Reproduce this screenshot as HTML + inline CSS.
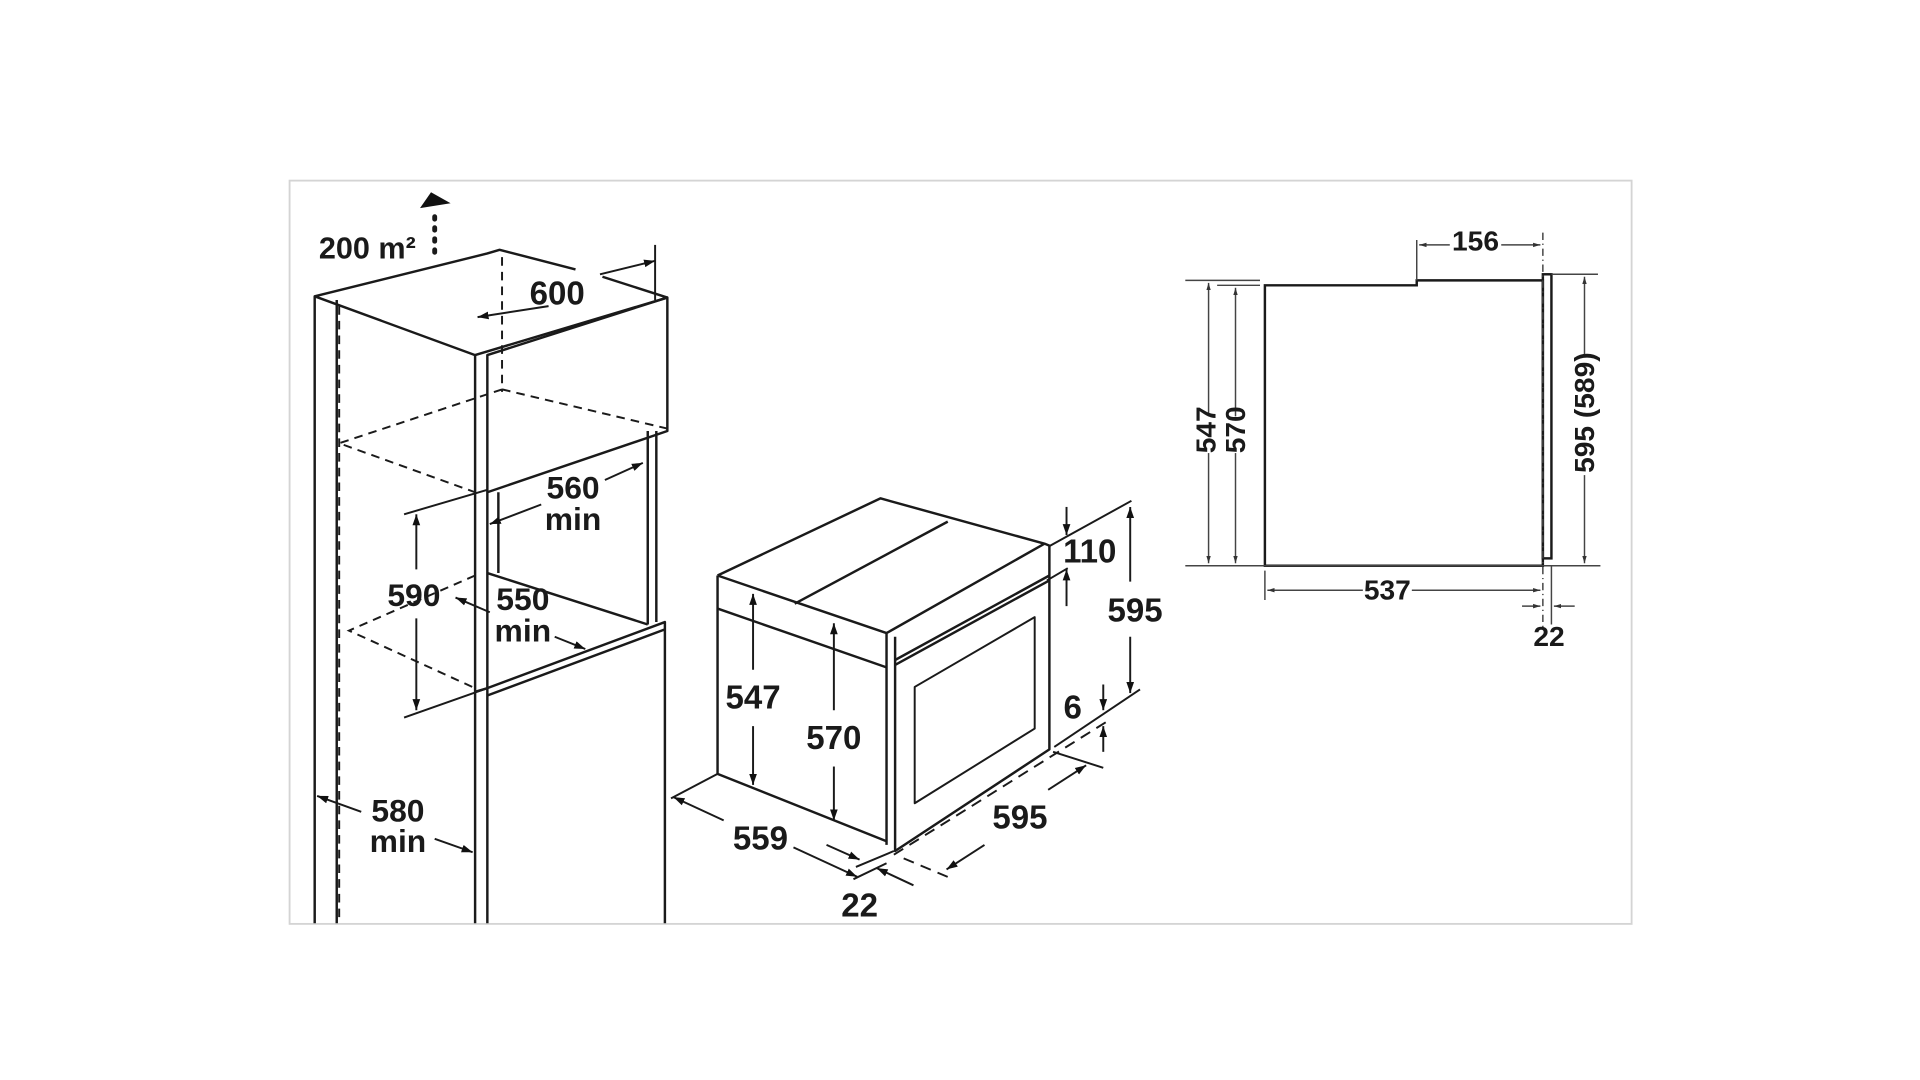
<!DOCTYPE html>
<html><head><meta charset="utf-8"><style>
html,body{margin:0;padding:0;background:#fff;}
svg{display:block}
text{font-family:"Liberation Sans Narrow","Liberation Sans",sans-serif;font-weight:bold;fill:#1a1a1a;text-anchor:middle;dominant-baseline:central}
</style></head><body>
<svg width="1920" height="1080" viewBox="0 0 1568 882" xmlns="http://www.w3.org/2000/svg">
<defs>
<marker id="a" viewBox="0 0 10 10" refX="10" refY="5" markerWidth="9" markerHeight="9" markerUnits="userSpaceOnUse" orient="auto"><path d="M0,1.5 L10,5 L0,8.5z" fill="#111"/></marker>
<marker id="s" viewBox="0 0 10 10" refX="10" refY="5" markerWidth="6" markerHeight="6" markerUnits="userSpaceOnUse" orient="auto"><path d="M0,2 L10,5 L0,8z" fill="#333"/></marker>
</defs>
<rect x="236.5" y="147.5" width="1096" height="607" fill="none" stroke="#d4d4d4" stroke-width="1.5"/>
<g stroke="#1a1a1a" stroke-width="2" fill="none" stroke-linejoin="round">
<!-- left cabinet -->
<path d="M257,754 V242 L388,290 L545,243 V352 L398,402"/>
<path d="M275,754 V245"/>
<path d="M257,242 L398,207 L408,204 L470,220"/>
<path d="M492,226 L545,243"/>
<path d="M388,754 V290 M398,754 V290 L545,243"/>
<path d="M407,402 V468 M529,352 V510 M536,352 V508"/>
<path d="M398,468 L529,510"/>
<path d="M388,565 L398,562 L543,508 V754 M398,568 L543,514"/>
</g>
<g stroke="#1a1a1a" stroke-width="1.6" fill="none" stroke-dasharray="7,5">
<path d="M277,250 V754"/>
<path d="M410,210 V320"/>
<path d="M410,318 L545,350 M410,318 L277,362 L388,402"/>
<path d="M388,470 L285,515 L388,562"/>
</g>
<g stroke="#1a1a1a" stroke-width="1.6" fill="none">
<path d="M355,177 V212" stroke-dasharray="2,7" stroke-width="4" stroke-linecap="round"/>
<path d="M535,200 V245"/>
<path d="M448,250 L390,259" marker-end="url(#a)"/>
<path d="M490,224 L535,213" marker-end="url(#a)"/>
<path d="M330,420 L398,400 M330,586 L398,562"/>
<path d="M340,465 V420" marker-end="url(#a)"/>
<path d="M340,505 V580" marker-end="url(#a)"/>
<path d="M442,412 L400,428" marker-end="url(#a)"/>
<path d="M494,392 L525,378" marker-end="url(#a)"/>
<path d="M400,500 L372,488" marker-end="url(#a)"/>
<path d="M453,520 L478,530" marker-end="url(#a)"/>
<path d="M295,663 L259,650" marker-end="url(#a)"/>
<path d="M355,685 L386,696" marker-end="url(#a)"/>
</g>
<path d="M343,170 L368,166 L352,157z" fill="#111"/>
<text x="300" y="203" font-size="25">200 m²</text>
<text x="455" y="240" font-size="27">600</text>
<text x="468" y="398" font-size="26">560</text>
<text x="468" y="424" font-size="26">min</text>
<text x="338" y="486" font-size="26">590</text>
<text x="427" y="489" font-size="26">550</text>
<text x="427" y="515" font-size="26">min</text>
<text x="325" y="662" font-size="26">580</text>
<text x="325" y="687" font-size="26">min</text>
<!-- oven -->
<g stroke="#1a1a1a" stroke-width="2" fill="none" stroke-linejoin="round">
<path d="M586,470 L719,407 L853,444 L858,446 M586,470 V632 L724,687"/>
<path d="M586,470 L724,517"/>
<path d="M586,497 L724,545"/>
<path d="M649,493 L774,426"/>
<path d="M724,517 L853,444 M724,517 V690 M731,520 V695 L857,612 V446"/>
<path d="M731,543 L857,474 M731,539 L857,470"/>
<path d="M747,561 L845,504 V595 L747,656z" stroke-width="1.6"/>
</g>
<g stroke="#1a1a1a" stroke-width="1.6" fill="none">
<path d="M615,547 V485" marker-end="url(#a)"/>
<path d="M615,593 V641" marker-end="url(#a)"/>
<path d="M681,580 V509" marker-end="url(#a)"/>
<path d="M681,626 V670" marker-end="url(#a)"/>
<path d="M857,446 L924,409 M855,474 L872,464"/>
<path d="M871,414 V437" marker-end="url(#a)"/>
<path d="M871,495 V465" marker-end="url(#a)"/>
<path d="M923,475 V414" marker-end="url(#a)"/>
<path d="M923,520 V566" marker-end="url(#a)"/>
<path d="M861,610 L931,563"/>
<path d="M901,559 V580" marker-end="url(#a)"/>
<path d="M901,614 V593" marker-end="url(#a)"/>
<path d="M730,698 L906,588" stroke-dasharray="9,6"/>
<path d="M860,614 L901,627"/>
<path d="M738,701 L776,717" stroke-dasharray="9,6"/>
<path d="M804,690 L773,710" marker-end="url(#a)"/>
<path d="M856,645 L887,625" marker-end="url(#a)"/>
<path d="M586,632 L548,652"/>
<path d="M591,670 L550,651" marker-end="url(#a)"/>
<path d="M648,692 L700,716" marker-end="url(#a)"/>
<path d="M675,690 L702,702" marker-end="url(#a)"/>
<path d="M746,723 L716,709" marker-end="url(#a)"/>
<path d="M699,708 L730,695 M697,718 L724,705"/>
</g>
<text x="615" y="570" font-size="27">547</text>
<text x="681" y="603" font-size="27">570</text>
<text x="890" y="451" font-size="27">110</text>
<text x="927" y="499" font-size="27">595</text>
<text x="876" y="578" font-size="27">6</text>
<text x="833" y="668" font-size="27">595</text>
<text x="621" y="685" font-size="27">559</text>
<text x="702" y="740" font-size="27">22</text>
<!-- side view -->
<g stroke="#1a1a1a" stroke-width="2" fill="none">
<path d="M1033,462 V233 H1157 V229 H1260 V462 Z"/>
<rect x="1260" y="224" width="7" height="232"/>
</g>
<g stroke="#444" stroke-width="1.2" fill="none">
<path d="M968,229 H1029 M994,233 H1029 M1267,224 H1305 M968,462 H1307"/>
<path d="M987,340 V231" marker-end="url(#s)"/>
<path d="M987,370 V460" marker-end="url(#s)"/>
<path d="M1009,340 V235" marker-end="url(#s)"/>
<path d="M1009,370 V460" marker-end="url(#s)"/>
<path d="M1294,290 V226" marker-end="url(#s)"/>
<path d="M1294,388 V460" marker-end="url(#s)"/>
<path d="M1157,196 V229"/>
<path d="M1184,200 H1159" marker-end="url(#s)"/>
<path d="M1226,200 H1258" marker-end="url(#s)"/>
<path d="M1260,190 V512" stroke-dasharray="6,3,1,3"/>
<path d="M1033,466 V490 M1267,462 V510"/>
<path d="M1113,482 H1035" marker-end="url(#s)"/>
<path d="M1153,482 H1258" marker-end="url(#s)"/>
<path d="M1243,495 H1258" marker-end="url(#s)"/>
<path d="M1286,495 H1269" marker-end="url(#s)"/>
</g>
<text x="1205" y="197" font-size="23">156</text>
<text x="1133" y="482" font-size="23">537</text>
<text x="1265" y="520" font-size="23">22</text>
<text transform="translate(985,351) rotate(-90)" font-size="23">547</text>
<text transform="translate(1009,351) rotate(-90)" font-size="23">570</text>
<text transform="translate(1294,337) rotate(-90)" font-size="23">595 (589)</text>
</svg>
</body></html>
